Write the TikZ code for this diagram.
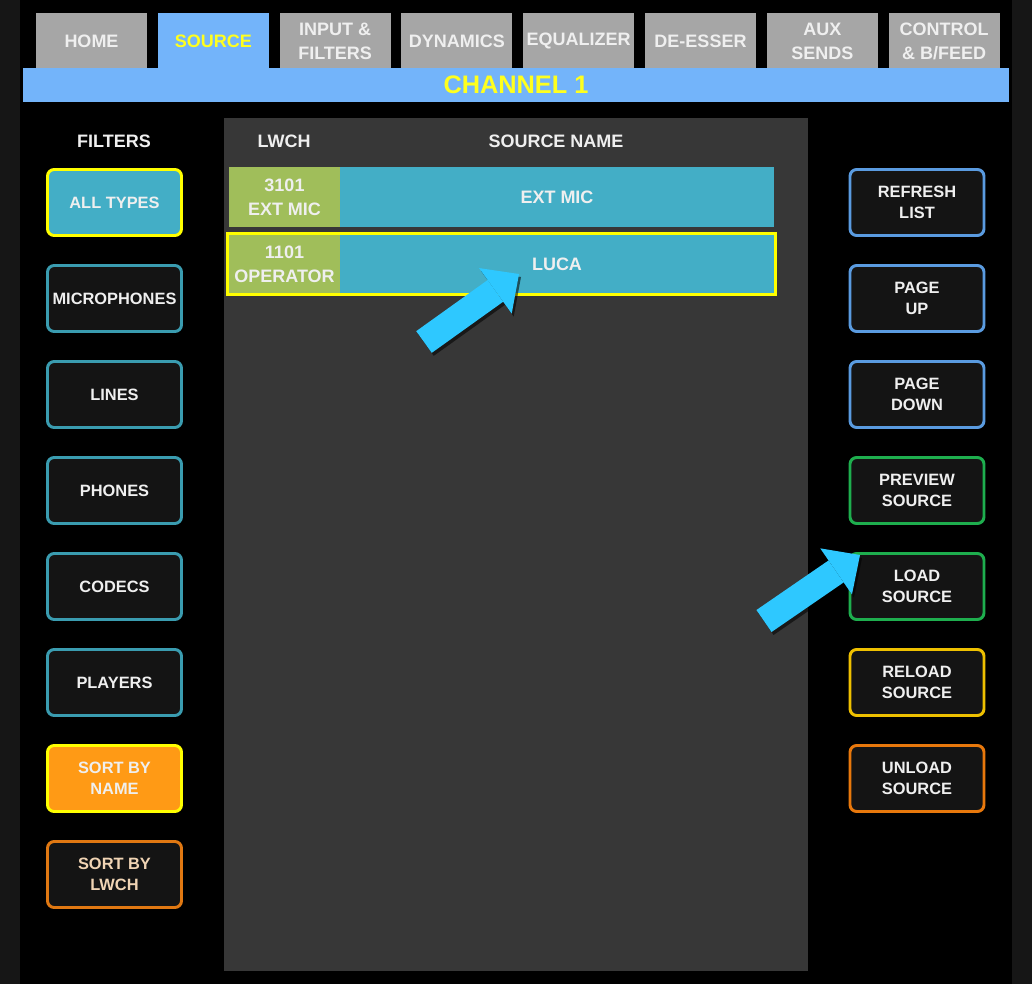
\documentclass[tikz,border=0pt]{standalone}
\usepackage{fontspec}
\setmainfont{Liberation Sans}
\usetikzlibrary{arrows.meta,positioning,fit}
\definecolor{sidegray}{HTML}{161616}
\definecolor{panelgray}{HTML}{373737}
\definecolor{tabgray}{HTML}{A6A6A6}
\definecolor{tabtext}{HTML}{EFEFEF}
\definecolor{barblue}{HTML}{73B4FA}
\definecolor{chanyellow}{HTML}{FFFF1E}
\definecolor{cellgreen}{HTML}{A0BE5A}
\definecolor{cellteal}{HTML}{43AEC6}
\definecolor{selyellow}{HTML}{FFFF00}
\definecolor{btnfill}{HTML}{141414}
\definecolor{filtedge}{HTML}{3A9CB0}
\definecolor{sortorange}{HTML}{FF9A15}
\definecolor{lwchedge}{HTML}{E07812}
\definecolor{lwchtext}{HTML}{F0D4B4}
\definecolor{listblue}{HTML}{5A9BE0}
\definecolor{prevgreen}{HTML}{1EAE4E}
\definecolor{reloadyel}{HTML}{EEC000}
\definecolor{unloadorg}{HTML}{E8780C}
\definecolor{ptrcyan}{HTML}{2EC8FF}
\tikzset{
  every node/.style={font=\bfseries},
  tab/.style={fill=tabgray, text=tabtext, minimum width=83.25pt, minimum height=41.25pt,
              inner sep=0pt, align=center, font=\bfseries\fontsize{13.5}{18}\selectfont},
  srctab/.style={tab, fill=barblue, text=chanyellow},
  bar/.style={fill=barblue, text=chanyellow, minimum width=739.5pt, minimum height=25.5pt,
              inner sep=0pt, font=\bfseries\fontsize{19}{22}\selectfont},
  panel/.style={fill=panelgray, minimum width=438pt, minimum height=639.75pt, inner sep=0pt},
  hdr/.style={text=tabtext, font=\bfseries\fontsize{13.5}{16}\selectfont},
  cell/.style={minimum height=45pt, inner sep=0pt, outer sep=0pt, align=center, text=tabtext,
               font=\bfseries\fontsize{13.5}{18}\selectfont},
  lwcell/.style={cell, fill=cellgreen, minimum width=83.25pt},
  namecell/.style={cell, fill=cellteal, minimum width=325.5pt},
  selbox/.style={draw=selyellow, line width=2.25pt, inner sep=1.1pt},
  btn/.style={draw, line width=2.2pt, rounded corners=5pt, fill=btnfill, minimum width=100.5pt,
              minimum height=49.5pt, inner sep=0pt, align=center, text=tabtext,
              font=\bfseries\fontsize{12.3}{15.5}\selectfont},
  fbtn/.style={btn, draw=filtedge},
  allbtn/.style={btn, draw=selyellow, fill=cellteal},
  namebtn/.style={btn, draw=selyellow, fill=sortorange},
  lwchbtn/.style={btn, draw=lwchedge, text=lwchtext},
  listbtn/.style={btn, draw=listblue},
  srcbtn/.style={btn, draw=prevgreen},
  reloadbtn/.style={btn, draw=reloadyel},
  unloadbtn/.style={btn, draw=unloadorg},
  ptr/.style={draw=ptrcyan, line width=20pt, -{Triangle[length=21.75pt, width=42pt, line width=0pt]}},
  ptrshadow/.style={ptr, draw=black, opacity=.55, transform canvas={xshift=1.5pt, yshift=-2.25pt}},
}

\begin{document}
\begin{tikzpicture}[x=0.75pt, y=-0.75pt, node distance=20.3pt]
\useasboundingbox (0,0) rectangle (1032,984);
\fill[sidegray] (0,0) rectangle (1032,984);
\fill[black] (20,0) rectangle (1012,984);

% tabs
\node[tab] (home) at (91.5,41) {HOME};
\node[srctab, right=7.7pt of home] (source) {SOURCE};
\node[tab, right=7.7pt of source] (input) {INPUT \&\\FILTERS};
\node[tab, right=7.7pt of input] (dyn) {DYNAMICS};
\node[tab, right=7.7pt of dyn] (eq) {EQUALIZER};
\node[tab, right=7.7pt of eq] (deess) {DE-ESSER};
\node[tab, right=7.7pt of deess] (aux) {AUX\\SENDS};
\node[tab, right=7.7pt of aux] (ctrl) {CONTROL\\\& B/FEED};
\node[bar] (chan) at (516,85) {CHANNEL 1};

% source list
\node[panel] (list) at (516,544.5) {};
\node[hdr] (filthdr) at (114,141) {FILTERS};
\node[hdr] (lwchhdr) at (284,141) {LWCH};
\node[hdr] (namehdr) at (556,141) {SOURCE NAME};

\node[lwcell] (lw1) at (284.5,197) {3101\\EXT MIC};
\node[namecell, right=0pt of lw1] (nm1) {EXT MIC};
\node[lwcell, minimum height=43.5pt] (lw2) at (284.5,264) {1101\\OPERATOR};
\node[namecell, minimum height=43.5pt, right=0pt of lw2] (nm2) {LUCA};
\node[selbox, fit=(lw2)(nm2)] (sel) {};

% filter buttons
\node[allbtn] (alltypes) at (114.5,202.5) {ALL TYPES};
\node[fbtn, below=of alltypes] (mics) {MICROPHONES};
\node[fbtn, below=of mics] (lines) {LINES};
\node[fbtn, below=of lines] (phones) {PHONES};
\node[fbtn, below=of phones] (codecs) {CODECS};
\node[fbtn, below=of codecs] (players) {PLAYERS};
\node[namebtn, below=of players] (byname) {SORT BY\\NAME};
\node[lwchbtn, below=of byname] (bylwch) {SORT BY\\LWCH};

% action buttons
\node[listbtn] (refresh) at (917,202.5) {REFRESH\\LIST};
\node[listbtn, below=of refresh] (pgup) {PAGE\\UP};
\node[listbtn, below=of pgup] (pgdown) {PAGE\\DOWN};
\node[srcbtn, below=of pgdown] (preview) {PREVIEW\\SOURCE};
\node[srcbtn, below=of preview] (load) {LOAD\\SOURCE};
\node[reloadbtn, below=of load] (reload) {RELOAD\\SOURCE};
\node[unloadbtn, below=of reload] (unload) {UNLOAD\\SOURCE};

% pointers
\coordinate (tail1) at (424,342);
\coordinate (ptr1) at (519,274);
\coordinate (tail2) at (764,621);
\coordinate (ptr2) at (860,555);
\draw[ptrshadow] (tail1) -- (ptr1);
\draw[ptr] (tail1) -- (ptr1);
\draw[ptrshadow] (tail2) -- (ptr2);
\draw[ptr] (tail2) -- (ptr2);

\end{tikzpicture}
\end{document}
